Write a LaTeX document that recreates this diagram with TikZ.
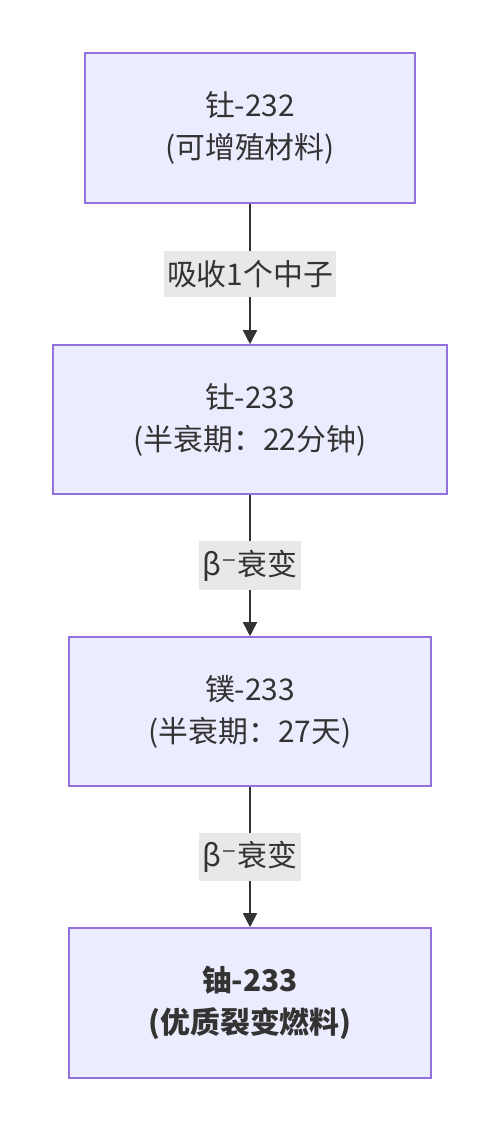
\documentclass[tikz,border=0pt]{standalone}
\usepackage{fontspec}
\setmainfont{Noto Sans CJK SC}
\newfontfamily\symfont{DejaVu Sans}
\usetikzlibrary{arrows.meta}
\definecolor{nodefill}{HTML}{ECECFF}
\definecolor{nodeline}{HTML}{9370DB}
\definecolor{textgray}{HTML}{333333}
\definecolor{labelfill}{HTML}{E8E8E8}

\begin{document}
\begin{tikzpicture}[
		stage/.style={draw=nodeline, fill=nodefill, line width=0.9pt, rectangle, align=center, text=textgray, font=\fontsize{17}{24}\selectfont, minimum height=3cm},
		flow/.style={draw=textgray, line width=0.9pt, -{Triangle[width=0.28cm, length=0.28cm]}},
		step label/.style={fill=labelfill, text=textgray, font=\fontsize{17}{24}\selectfont, inner xsep=2pt, inner ysep=5pt}
	]
		\useasboundingbox (0, 0) rectangle (10, -22.64);
		\node[stage, minimum width=6.6cm] (th232) at (5, -2.56) {钍-232\\(可增殖材料)};
		\node[stage, minimum width=7.88cm, minimum height=2.98cm] (th233) at (5, -8.39) {钍-233\\(半衰期：22分钟)};
		\node[stage, minimum width=7.24cm, minimum height=2.98cm] (pa233) at (5, -14.23) {镤-233\\(半衰期：27天)};
		\node[stage, minimum width=7.24cm] (u233) at (5, -20.06) {\bfseries 铀-233\\\bfseries (优质裂变燃料)};
		\draw[flow] (th232) -- node[step label] {吸收1个中子} (th233);
		\draw[flow] (th233) -- node[step label] {β{\symfont ⁻}衰变} (pa233);
		\draw[flow] (pa233) -- node[step label] {β{\symfont ⁻}衰变} (u233);
	\end{tikzpicture}
\end{document}
